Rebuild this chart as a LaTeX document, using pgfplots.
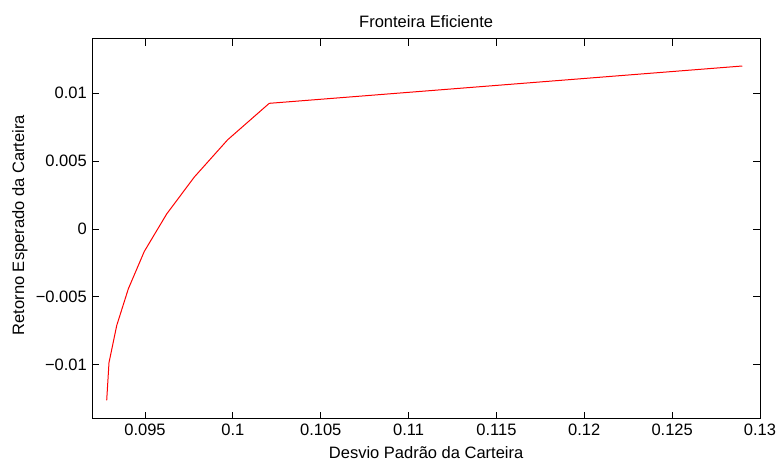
\documentclass[border=0pt]{standalone}
\usepackage{fontspec}
\setmainfont{Liberation Sans}
\usepackage{pgfplots}
\pgfplotsset{compat=1.18}
\begin{document}
\begin{tikzpicture}[x=1pt,y=1pt]
\useasboundingbox (0,0) rectangle (777,461);
\begin{axis}[
 at={(92.3pt,42pt)}, anchor=south west,
 scale only axis, width=667.7pt, height=380pt,
 xmin=0.092, xmax=0.13, ymin=-0.014, ymax=0.014,
 xtick={0.095,0.1,0.105,0.11,0.115,0.12,0.125,0.13},
 xticklabels={0.095,0.1,0.105,0.11,0.115,0.12,0.125,0.13},
 ytick={-0.01,-0.005,0,0.005,0.01},
 yticklabels={−0.01,−0.005,0,0.005,0.01},
 scaled ticks=false,
 tick align=inside, major tick length=7pt,
 tick style={black, line width=0.8pt},
 axis line style={black, line width=1pt},
 ticklabel style={font=\fontsize{16.5}{18}\selectfont},
 xticklabel style={yshift=-1pt},
 yticklabel style={xshift=-2pt},
 label style={font=\fontsize{16.5}{18}\selectfont},
 every axis title shift=0pt,
 title style={font=\fontsize{16.5}{18}\selectfont, at={(axis description cs:0.5,1.047)}, anchor=center},
 xlabel style={at={(axis description cs:0.5,-0.089)}, anchor=center},
 ylabel style={at={(axis description cs:-0.1083,0.51)}, anchor=center},
 xlabel={Desvio Padrão da Carteira},
 ylabel={Retorno Esperado da Carteira},
 title={Fronteira Eficiente},
]
\addplot[red, line width=1pt, mark=none] coordinates {
 (0.09282,-0.01262)
 (0.09295,-0.00985)
 (0.09339,-0.00711)
 (0.09405,-0.00441)
 (0.09496,-0.00165)
 (0.09623,0.00110)
 (0.09780,0.00382)
 (0.09970,0.00657)
 (0.10207,0.00926)
 (0.12899,0.01201)
};
\end{axis}
\end{tikzpicture}
\end{document}
